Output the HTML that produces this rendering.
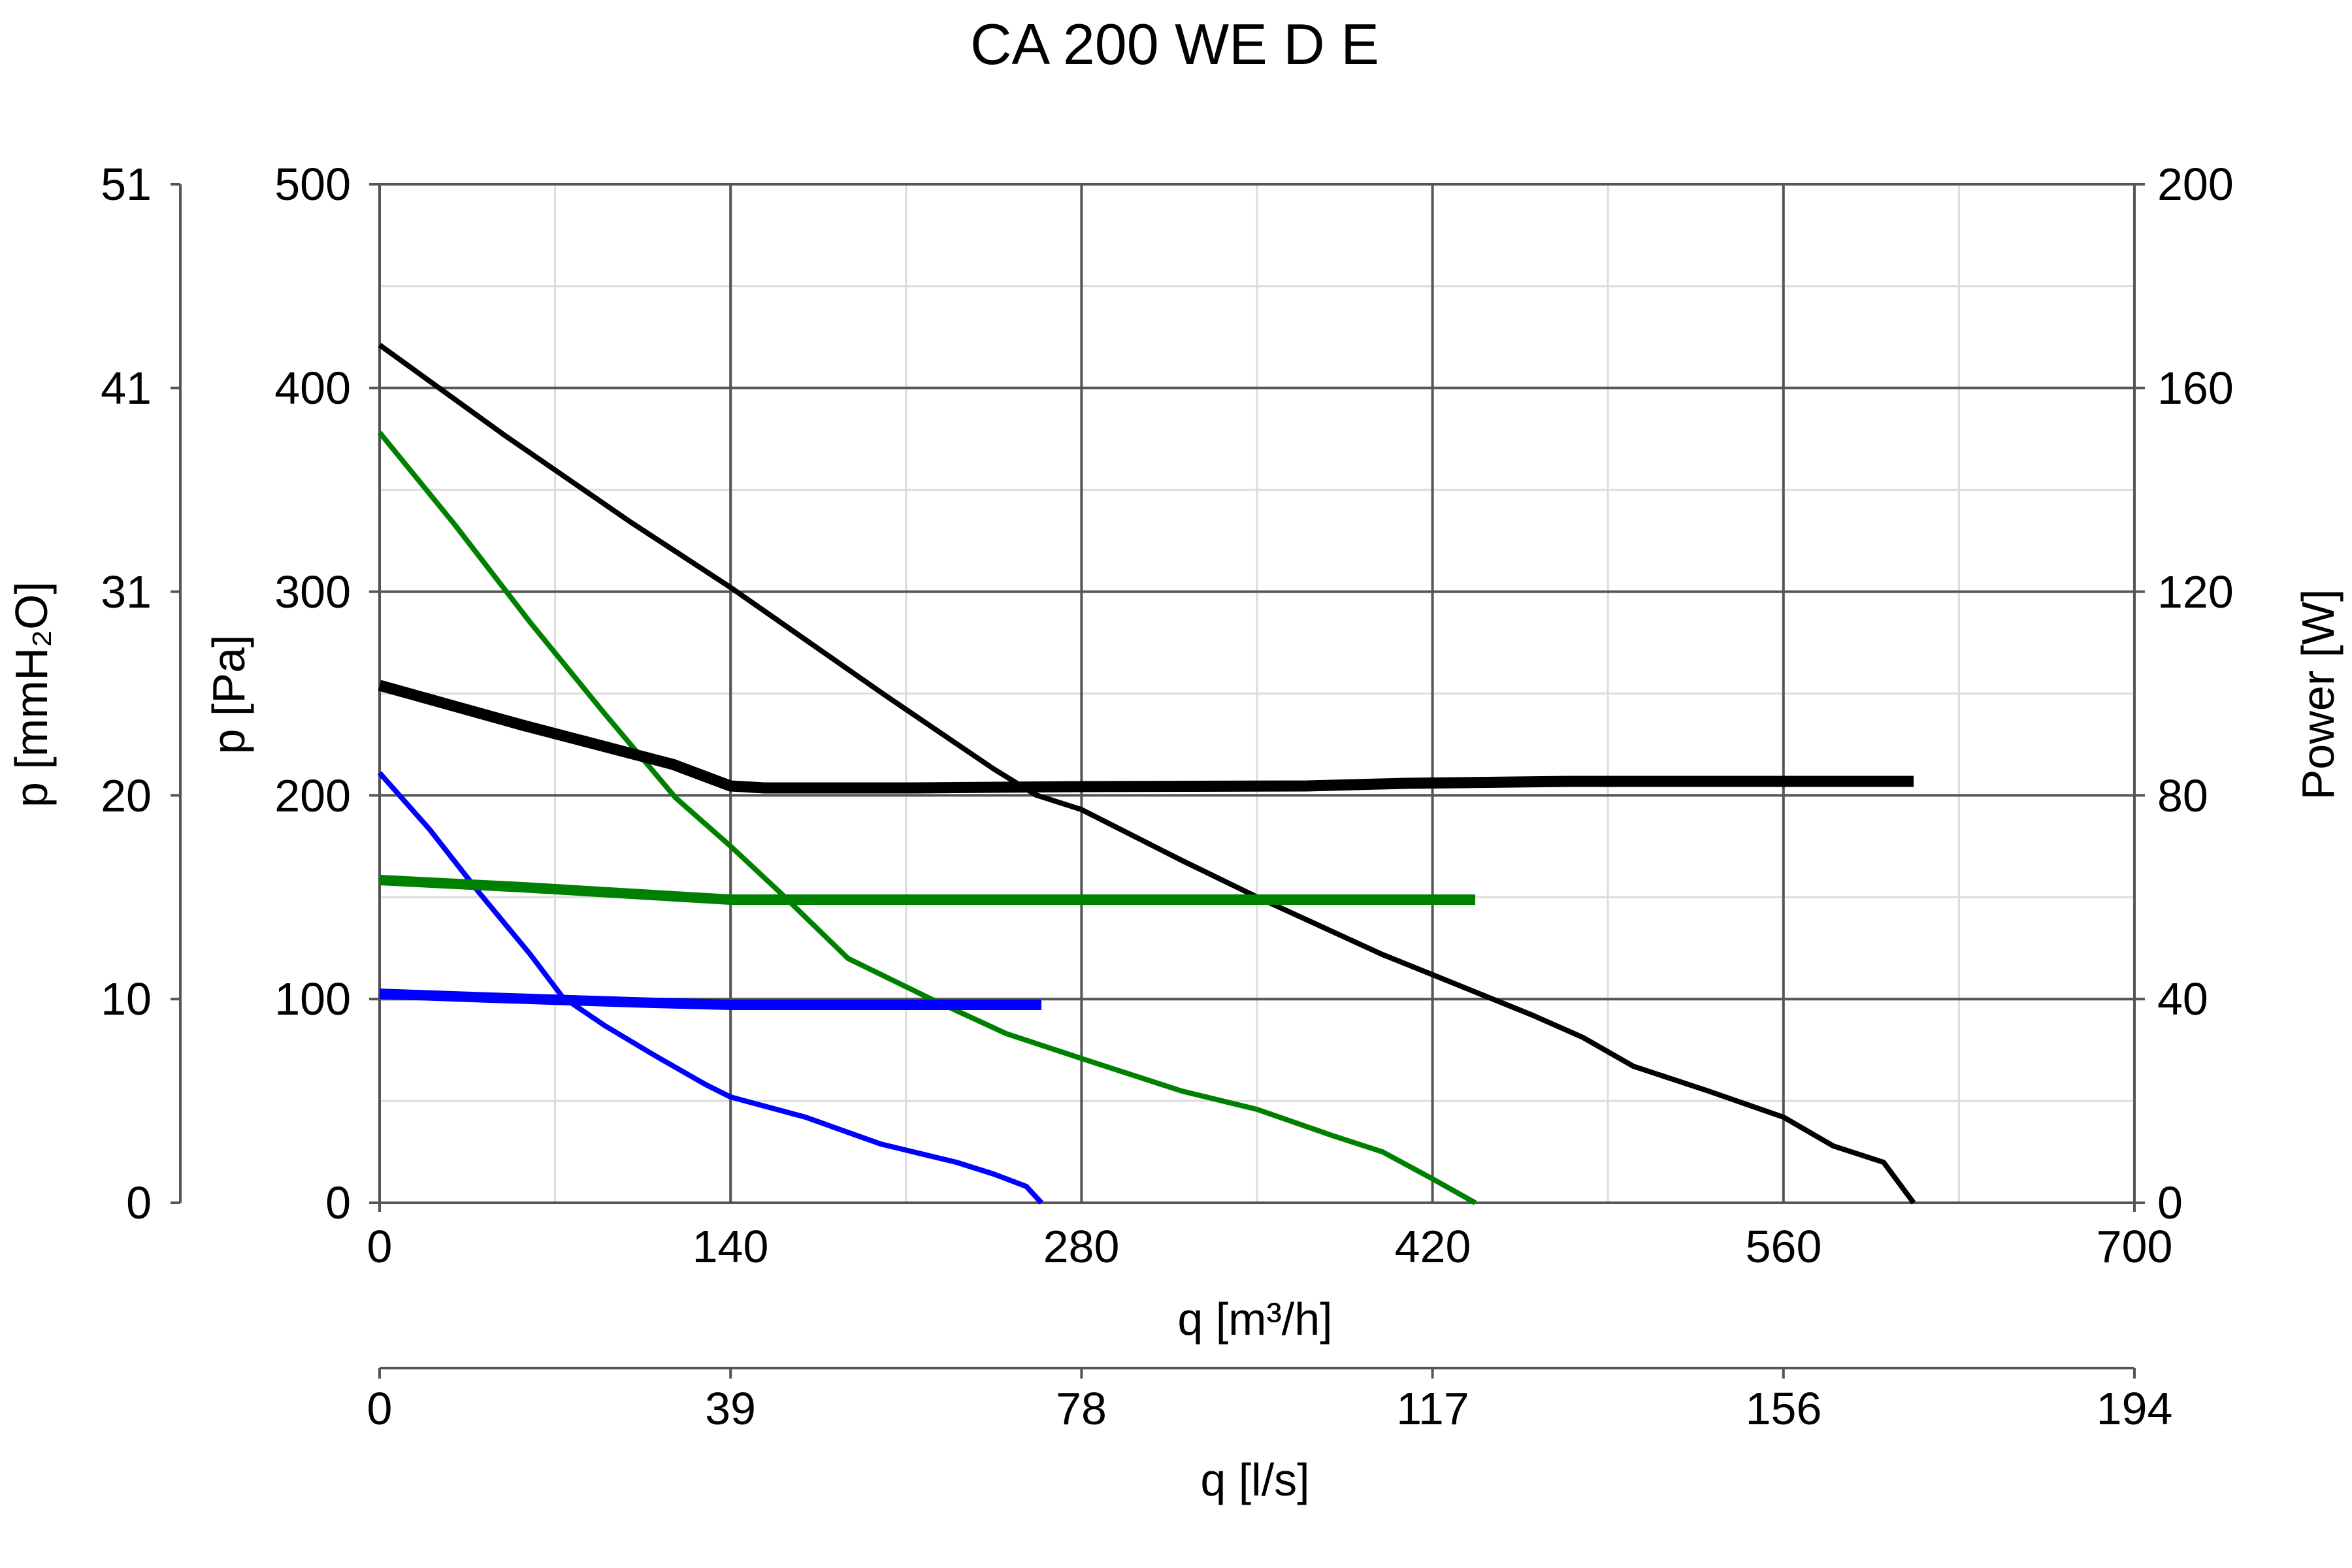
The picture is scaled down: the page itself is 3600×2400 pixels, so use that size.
<!DOCTYPE html>
<html><head><meta charset="utf-8"><style>
html,body{margin:0;padding:0;background:#fff;}
svg{display:block;}
text{font-family:"Liberation Sans",Arial,sans-serif;fill:#000;}
</style></head><body>
<svg width="3600" height="2400" viewBox="0 0 3600 2400" xmlns="http://www.w3.org/2000/svg">
<rect width="3600" height="2400" fill="#fff"/>
<text x="1798" y="98" font-size="88" text-anchor="middle">CA 200 WE D E</text>
<g stroke="#dcdcdc" stroke-width="3">
<line x1="849.6" y1="282" x2="849.6" y2="1841"/>
<line x1="1386.8" y1="282" x2="1386.8" y2="1841"/>
<line x1="1924" y1="282" x2="1924" y2="1841"/>
<line x1="2461.2" y1="282" x2="2461.2" y2="1841"/>
<line x1="2998.4" y1="282" x2="2998.4" y2="1841"/>
<line x1="581" y1="437.9" x2="3267" y2="437.9"/>
<line x1="581" y1="749.7" x2="3267" y2="749.7"/>
<line x1="581" y1="1061.5" x2="3267" y2="1061.5"/>
<line x1="581" y1="1373.3" x2="3267" y2="1373.3"/>
<line x1="581" y1="1685.1" x2="3267" y2="1685.1"/>
</g>
<g stroke="#555" stroke-width="4">
<line x1="1118.2" y1="282" x2="1118.2" y2="1841"/>
<line x1="1655.4" y1="282" x2="1655.4" y2="1841"/>
<line x1="2192.6" y1="282" x2="2192.6" y2="1841"/>
<line x1="2729.8" y1="282" x2="2729.8" y2="1841"/>
<line x1="581" y1="593.8" x2="3267" y2="593.8"/>
<line x1="581" y1="905.6" x2="3267" y2="905.6"/>
<line x1="581" y1="1217.4" x2="3267" y2="1217.4"/>
<line x1="581" y1="1529.2" x2="3267" y2="1529.2"/>
<line x1="581" y1="282" x2="581" y2="1841"/>
<line x1="3267" y1="282" x2="3267" y2="1855"/>
<line x1="565" y1="1841" x2="3283" y2="1841"/>
<line x1="565" y1="282" x2="3283" y2="282"/>
<line x1="565" y1="593.8" x2="581" y2="593.8"/>
<line x1="565" y1="905.6" x2="581" y2="905.6"/>
<line x1="565" y1="1217.4" x2="581" y2="1217.4"/>
<line x1="565" y1="1529.2" x2="581" y2="1529.2"/>
<line x1="3267" y1="593.8" x2="3283" y2="593.8"/>
<line x1="3267" y1="905.6" x2="3283" y2="905.6"/>
<line x1="3267" y1="1217.4" x2="3283" y2="1217.4"/>
<line x1="3267" y1="1529.2" x2="3283" y2="1529.2"/>
<line x1="581" y1="1841" x2="581" y2="1855"/>
<line x1="276" y1="282" x2="276" y2="1841"/>
<line x1="261" y1="282" x2="276" y2="282"/>
<line x1="261" y1="593.8" x2="276" y2="593.8"/>
<line x1="261" y1="905.6" x2="276" y2="905.6"/>
<line x1="261" y1="1217.4" x2="276" y2="1217.4"/>
<line x1="261" y1="1529.2" x2="276" y2="1529.2"/>
<line x1="261" y1="1841" x2="276" y2="1841"/>
<line x1="581" y1="2094" x2="3267" y2="2094"/>
<line x1="581" y1="2094" x2="581" y2="2110"/>
<line x1="1118.2" y1="2094" x2="1118.2" y2="2110"/>
<line x1="1655.4" y1="2094" x2="1655.4" y2="2110"/>
<line x1="2192.6" y1="2094" x2="2192.6" y2="2110"/>
<line x1="2729.8" y1="2094" x2="2729.8" y2="2110"/>
<line x1="3267" y1="2094" x2="3267" y2="2110"/>
</g>
<g font-size="70">
<g text-anchor="end">
<text x="232" y="306">51</text><text x="232" y="618">41</text><text x="232" y="930">31</text><text x="232" y="1242">20</text><text x="232" y="1553">10</text><text x="232" y="1865">0</text>
<text x="537" y="306">500</text><text x="537" y="618">400</text><text x="537" y="930">300</text><text x="537" y="1242">200</text><text x="537" y="1553">100</text><text x="537" y="1865">0</text>
</g>
<g text-anchor="start">
<text x="3302" y="306">200</text><text x="3302" y="618">160</text><text x="3302" y="930">120</text><text x="3302" y="1242">80</text><text x="3302" y="1553">40</text><text x="3302" y="1865">0</text>
</g>
<g text-anchor="middle">
<text x="581" y="1932">0</text><text x="1118" y="1932">140</text><text x="1655" y="1932">280</text><text x="2193" y="1932">420</text><text x="2730" y="1932">560</text><text x="3267" y="1932">700</text>
<text x="1921" y="2043">q [m³/h]</text>
<text x="581" y="2180">0</text><text x="1118" y="2180">39</text><text x="1655" y="2180">78</text><text x="2193" y="2180">117</text><text x="2730" y="2180">156</text><text x="3267" y="2180">194</text>
<text x="1921" y="2289">q [l/s]</text>
<text transform="translate(72,1063) rotate(-90)">p [mmH₂O]</text>
<text transform="translate(374,1063) rotate(-90)">p [Pa]</text>
<text transform="translate(3572,1063) rotate(-90)">Power [W]</text>
</g>
</g>
<g fill="none" stroke-linejoin="round" stroke-linecap="butt">
<polyline stroke="#000" stroke-width="8" points="581,528 772,666 965,799 1118,899 1356,1065 1521,1177 1586,1217 1655,1239 1809,1317 1924,1373 2116,1461 2193,1492 2346,1554 2423,1588 2500,1632 2615,1670 2730,1710 2806,1754 2883,1779 2929,1841"/>
<polyline stroke="#008000" stroke-width="8" points="581,662 696,803 811,952 926,1093 1034,1221 1118,1295 1195,1367 1298,1467 1425,1529 1540,1582 1655,1620 1809,1670 1924,1698 2039,1738 2116,1763 2192,1804 2258,1841"/>
<polyline stroke="#0000ff" stroke-width="8" points="581,1183 658,1270 734,1367 811,1460 861,1526 926,1570 1003,1616 1080,1660 1118,1679 1233,1710 1348,1751 1464,1779 1521,1797 1571,1816 1594,1841"/>
<polyline stroke="#000" stroke-width="17" points="581,1049 800,1110 1030,1170 1118,1203 1170,1206 1400,1206 1655,1204 2000,1203 2150,1199 2400,1196 2929,1196"/>
<polyline stroke="#008000" stroke-width="16" points="581,1347 800,1358 1050,1373 1118,1377 1300,1377 1700,1377 2258,1377"/>
<polyline stroke="#0000ff" stroke-width="16" points="581,1521 750,1527 1000,1535 1118,1538 1300,1538 1594,1538"/>
</g>
</svg>
</body></html>
